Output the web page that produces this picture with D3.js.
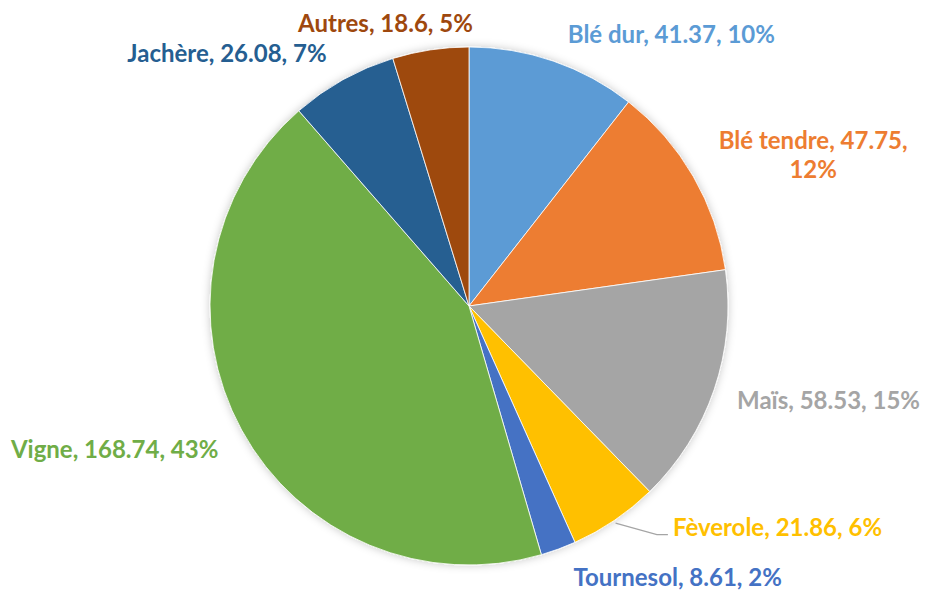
<!DOCTYPE html>
<html>
<head>
<meta charset="utf-8">
<script src="https://cdn.jsdelivr.net/npm/d3@7"></script>
<style>
  body { margin: 0; background: #fff; }
  svg { display: block; }
  .etiquette { font-family: Lato, "Open Sans", sans-serif; font-weight: bold; font-size: 24px; }
</style>
</head>
<body>
<svg></svg>
<script>
"use strict"
// dati
const cultures = ["Blé dur", "Blé tendre", "Maïs", "Fèverole", "Tournesol", "Vigne", "Jachère", "Autres"];
const valeurs = [41.37, 47.75, 58.53, 21.86, 8.61, 168.74, 26.08, 18.6];
const pourcentages = ["10%", "12%", "15%", "6%", "2%", "43%", "7%", "5%"];
const couleurs = ["#5B9BD5", "#ED7D31", "#A5A5A5", "#FFC000", "#4472C4", "#70AD47", "#255E91", "#9E480E"];

const grafico = { w: 927, h: 593 };
const centro = { x: 469, y: 306 };
const raggio = 259;

// spostamenti delle etichette rispetto al punto calcolato sull'arco
const spostamenti = {
    "Blé dur": [2, 9, "start"],
    "Blé tendre": [87, 0, "middle"],
    "Maïs": [-13, -1, "start"],
    "Fèverole": [37, -24, "start"],
    "Tournesol": [2, -7, "start"],
    "Vigne": [10, 1, "end"],
    "Jachère": [2, 7, "end"],
    "Autres": [48, 11, "end"]
};

const dati = cultures.map(function (c, i) {
    return { nome: c, valore: valeurs[i], pct: pourcentages[i], colore: couleurs[i] }
});

const svg = d3.select("svg")
    .attr("width", grafico.w)
    .attr("height", grafico.h);

const filtro = svg.append("defs").append("filter")
    .attr("id", "ombra")
    .attr("x", "-20%").attr("y", "-20%")
    .attr("width", "140%").attr("height", "140%");
filtro.append("feDropShadow")
    .attr("dx", 0).attr("dy", 0)
    .attr("stdDeviation", 4)
    .attr("flood-color", "#000")
    .attr("flood-opacity", 0.22);

const torta = d3.pie()
    .sort(null)
    .value(function (d) { return d.valore });

const arco = d3.arc().innerRadius(0).outerRadius(raggio);
const arcoEtichette = d3.arc().innerRadius(raggio + 38).outerRadius(raggio + 38);
const arcoBordo = d3.arc().innerRadius(raggio).outerRadius(raggio);

const fette = torta(dati);

const g = svg.append("g")
    .attr("transform", `translate(${centro.x},${centro.y})`);

g.append("g")
    .attr("filter", "url(#ombra)")
    .selectAll("path")
    .data(fette)
    .enter()
    .append("path")
    .attr("d", arco)
    .attr("fill", function (d) { return d.data.colore })
    .attr("stroke", "#fff")
    .attr("stroke-width", 0.8);

fette.forEach(function (d) {
    const p = arcoEtichette.centroid(d);
    const s = spostamenti[d.data.nome];
    const x = p[0] + s[0];
    const y = p[1] + s[1];
    const t = g.append("text")
        .attr("class", "etiquette")
        .attr("fill", d.data.colore)
        .attr("text-anchor", s[2]);
    if (d.data.nome === "Blé tendre") {
        t.append("tspan").attr("x", x).attr("y", y - 17).attr("dy", "0.35em")
            .text(d.data.nome + ", " + d.data.valore + ",");
        t.append("tspan").attr("x", x).attr("y", y + 12).attr("dy", "0.35em")
            .text(d.data.pct);
    } else {
        t.attr("x", x).attr("y", y).attr("dy", "0.35em")
            .text(d.data.nome + ", " + d.data.valore + ", " + d.data.pct);
    }
    if (d.data.nome === "Fèverole") {
        // linea guida
        const b = arcoBordo.centroid(d);
        g.append("polyline")
            .attr("points", [[b[0] + 1, b[1] + 3], [x - 16, y + 7], [x - 5, y + 7]].map(function (q) { return q.join(",") }).join(" "))
            .attr("fill", "none")
            .attr("stroke", "#A5A5A5")
            .attr("stroke-width", 1.3);
    }
});
</script>
</body>
</html>
